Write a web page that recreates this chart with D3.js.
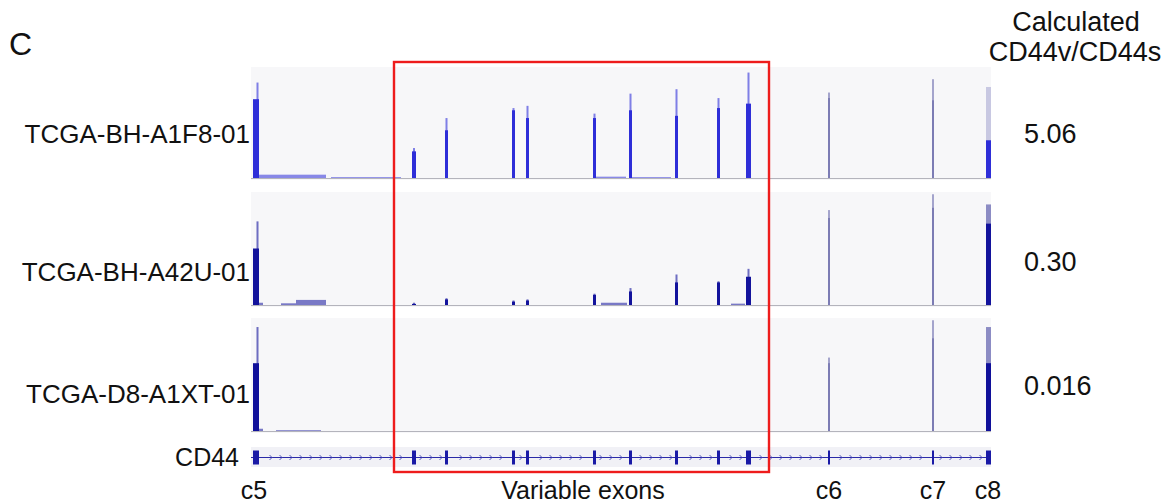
<!DOCTYPE html>
<html>
<head>
<meta charset="utf-8">
<script src="https://cdn.jsdelivr.net/npm/d3@7"></script>
<style>
  body { margin: 0; background: #fff; }
  text { font-family: "Liberation Sans", Arial, sans-serif; fill: #111; }
</style>
</head>
<body>
<div id="chart"></div>
<script>
const width = 1168, height = 504;

// exons along the CD44 locus (position in kb-like units from start of c5)
const exonNames = ["c5", "v2", "v3", "v4", "v5", "v6", "v7", "v8", "v9", "v10", "c6", "c7", "c8"];
const exonStart = [2, 161, 194, 261, 275, 342, 378, 424, 466, 495, 577, 681, 735];
const exonEnd   = [8, 165, 197, 264, 278, 345, 381, 427, 469, 500, 579, 683, 740];

const samples = ["TCGA-BH-A1F8-01", "TCGA-BH-A42U-01", "TCGA-D8-A1XT-01"];
const ratios = ["5.06", "0.30", "0.016"];

// coverage in % of track range: peak and bulk (body) per exon
const peak1 = [86, 27, 54, 63, 65, 58, 76, 80, 72, 95, 77, 89, 82];
const body1 = [71, 24, 43, 61, 54, 54, 61, 56, 63, 67, 72, 70, 34];
const peak2 = [74, 2, 6, 4, 5, 10, 15, 27, 21, 32, 84, 98, 89];
const body2 = [50, 1, 5, 3, 4, 9, 12, 20, 20, 25, 77, 86, 72];
const peak3 = [92, 0, 0, 0, 0, 0, 0, 0, 0, 0, 65, 98, 92];
const body3 = [60, 0, 0, 0, 0, 0, 0, 0, 0, 0, 60, 82, 60];

// low intronic coverage: [start, end, %]
const low1 = [[8, 75, 3], [80, 150, 0.8], [345, 375, 1.2], [380, 420, 0.8]];
const low2 = [[8, 12, 2], [30, 45, 1.5], [45, 75, 4.5], [350, 376, 2], [480, 494, 1.2]];
const low3 = [[8, 12, 2], [25, 70, 0.7]];

const bottomLabels = ["c5", "c6", "c7", "c8"];
const bottomPos = [3, 578, 682, 737];

const svg = d3.select("#chart").append("svg")
  .attr("width", width).attr("height", height);

const x = d3.scaleLinear().domain([0, 740]).range([251, 991]);

const tracks = [
  { top: 67, base: 178, peak: peak1, body: body1, low: low1, color: "#2e2ed8", labelY: 143 },
  { top: 192, base: 305, peak: peak2, body: body2, low: low2, color: "#13139c", labelY: 281 },
  { top: 318, base: 431, peak: peak3, body: body3, low: low3, color: "#10109a", labelY: 403 }
];
const ratioY = [143, 271, 395];

tracks.forEach((t, ti) => {
  const y = d3.scaleLinear().domain([0, 100]).range([t.base, t.top]);
  const g = svg.append("g");

  g.append("rect")
    .attr("x", x(0)).attr("y", t.top)
    .attr("width", x(740) - x(0)).attr("height", t.base - t.top + 2)
    .attr("fill", "#f7f7f9");
  g.append("line")
    .attr("x1", x(0)).attr("x2", x(740))
    .attr("y1", t.base + 0.5).attr("y2", t.base + 0.5)
    .attr("stroke", "#b4b4bc").attr("stroke-width", 1);

  g.selectAll(".low").data(t.low).join("rect")
    .attr("x", d => x(d[0])).attr("width", d => x(d[1]) - x(d[0]))
    .attr("y", d => y(d[2])).attr("height", d => t.base - y(d[2]))
    .attr("fill", t.color).attr("opacity", 0.55);

  exonNames.forEach((name, i) => {
    const x0 = x(exonStart[i]), w = x(exonEnd[i]) - x0;
    if (t.peak[i] <= 0) return;
    const isGray = name === "c6" || name === "c7";
    let peakColor = isGray ? "#a4a4cc" : t.color;
    let bodyColor = isGray ? "#7c7cb4" : t.color;
    if (name === "c8") peakColor = ti === 0 ? "#c8c8e2" : "#8c8cc4";
    // thin peak spike
    const px = name === "c5" ? x0 + w - 2.5 : (name === "c8" ? x0 : x0 + w / 2 - 1);
    const pw = name === "c8" ? w : 2;
    g.append("rect")
      .attr("x", px).attr("width", pw)
      .attr("y", y(t.peak[i])).attr("height", t.base - y(t.peak[i]))
      .attr("fill", peakColor)
      .attr("opacity", name === "c8" || isGray ? 1 : 0.6);
    g.append("rect")
      .attr("x", isGray ? x0 + w / 2 - 1 : x0).attr("width", isGray ? 2 : w)
      .attr("y", y(t.body[i])).attr("height", t.base - y(t.body[i]))
      .attr("fill", bodyColor);
  });

  svg.append("text")
    .attr("x", 250).attr("y", t.labelY)
    .attr("text-anchor", "end").attr("font-size", 26)
    .text(samples[ti]);
  svg.append("text")
    .attr("x", 1024).attr("y", ratioY[ti])
    .attr("font-size", 27)
    .text(ratios[ti]);
});

// gene model track
const geneY = 457.5;
svg.append("rect")
  .attr("x", x(0)).attr("y", 447).attr("width", x(740) - x(0)).attr("height", 20)
  .attr("fill", "#f1f1f6");
svg.append("line")
  .attr("x1", x(0)).attr("x2", x(740)).attr("y1", geneY).attr("y2", geneY)
  .attr("stroke", "#2a2aa8").attr("stroke-width", 1.2);

const inExon = p => exonStart.some((s, i) => p >= s - 3 && p <= exonEnd[i] + 3);
const arrows = d3.range(10, 740, 10).filter(p => !inExon(p));
svg.selectAll(".arrow").data(arrows).join("path")
  .attr("d", p => `M${x(p) - 1.5},${geneY - 2.5}L${x(p) + 1},${geneY}L${x(p) - 1.5},${geneY + 2.5}`)
  .attr("fill", "none").attr("stroke", "#4a4ab8").attr("stroke-width", 0.9);

svg.selectAll(".exon").data(exonNames).join("rect")
  .attr("x", (d, i) => x(exonStart[i]))
  .attr("width", (d, i) => Math.max(2, x(exonEnd[i]) - x(exonStart[i])))
  .attr("y", 450.5).attr("height", 14)
  .attr("fill", "#1a1aa6");

svg.append("text")
  .attr("x", 239).attr("y", 466)
  .attr("text-anchor", "end").attr("font-size", 25)
  .text("CD44");

// variable exon highlight box
svg.append("rect")
  .attr("x", 394).attr("y", 62).attr("width", 375).attr("height", 410)
  .attr("fill", "none").attr("stroke", "#ee1c1c").attr("stroke-width", 2.4);

// labels
svg.append("text").attr("x", 9).attr("y", 55).attr("font-size", 32).text("C");
svg.append("text").attr("x", 1076).attr("y", 31).attr("text-anchor", "middle")
  .attr("font-size", 27).text("Calculated");
svg.append("text").attr("x", 1075).attr("y", 61).attr("text-anchor", "middle")
  .attr("font-size", 27).text("CD44v/CD44s");

svg.selectAll(".blab").data(bottomLabels).join("text")
  .attr("x", (d, i) => x(bottomPos[i])).attr("y", 499)
  .attr("text-anchor", "middle").attr("font-size", 25)
  .text(d => d);
svg.append("text").attr("x", 583).attr("y", 499).attr("text-anchor", "middle")
  .attr("font-size", 25).text("Variable exons");
</script>
</body>
</html>
